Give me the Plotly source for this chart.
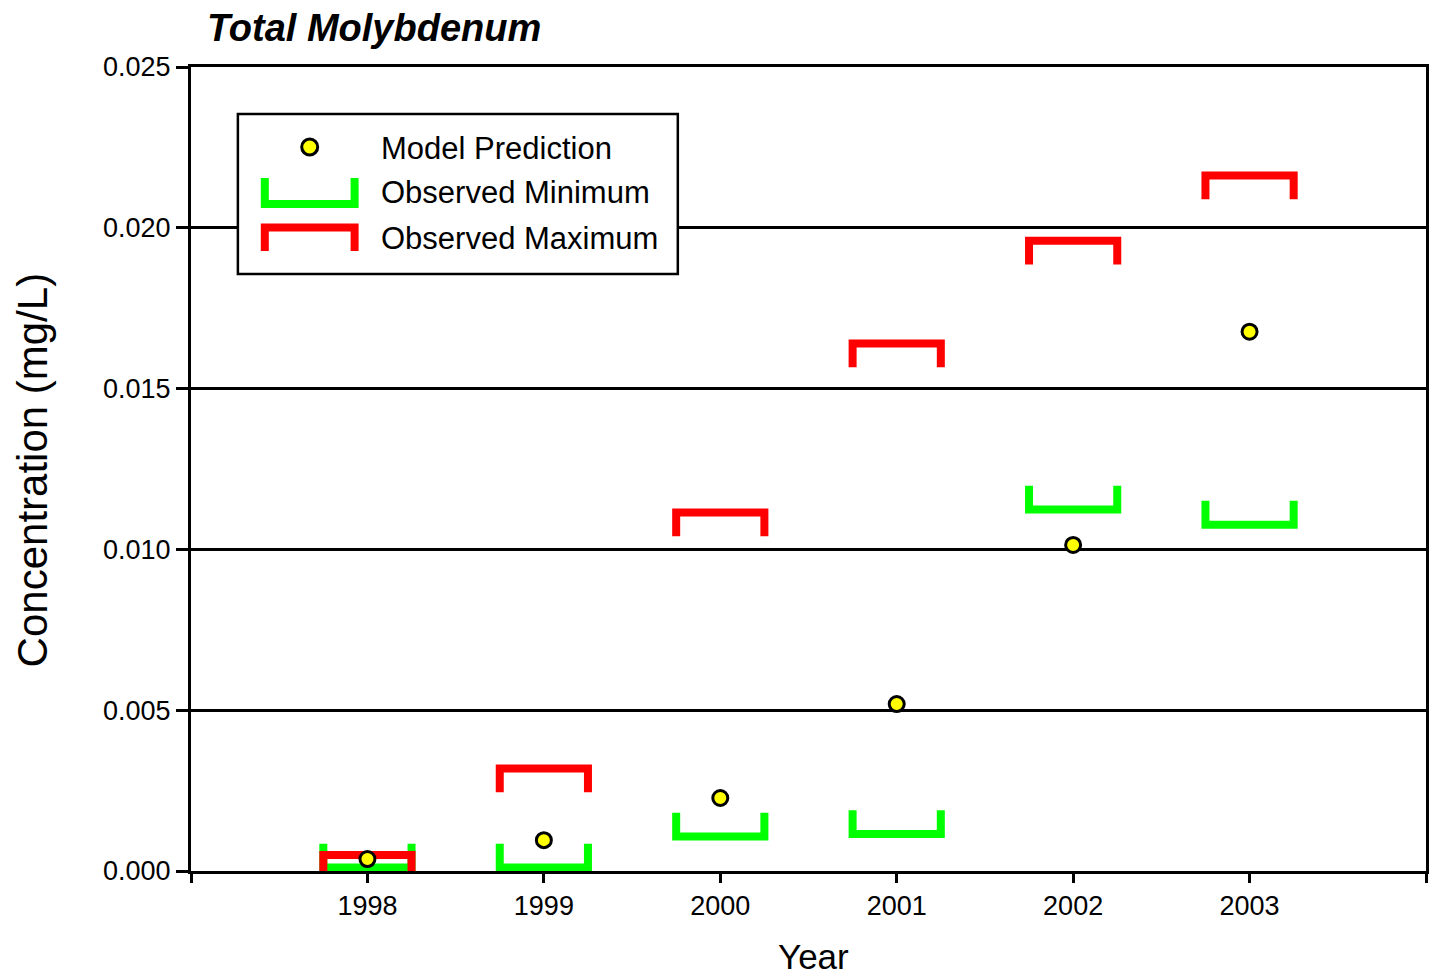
import plotly.graph_objects as go

# Total molybdenum: model prediction versus observed range per year
years = [1998, 1999, 2000, 2001, 2002, 2003]
model_prediction = [0.00037, 0.00096, 0.00227, 0.00519, 0.01014, 0.01677]
observed_min = [0.00011, 0.00011, 0.00107, 0.00115, 0.01124, 0.01077]
observed_max = [0.00050, 0.00319, 0.01115, 0.01640, 0.01960, 0.02163]

y_ticks = [0.0, 0.005, 0.010, 0.015, 0.020, 0.025]
y_tick_text = ["0.000", "0.005", "0.010", "0.015", "0.020", "0.025"]
x_ticks = [1997, 1998, 1999, 2000, 2001, 2002, 2003, 2004]
x_tick_text = ["", "1998", "1999", "2000", "2001", "2002", "2003", ""]

W, H = 1431, 979
M_L, M_R, M_T, M_B = 191, 2, 67, 108
PW, PH = W - M_L - M_R, H - M_T - M_B

GREEN = "#00FF00"
RED = "#FF0000"
YELLOW = "#FFFF00"
ARIAL = "Liberation Sans, Arial, sans-serif"

HALF_W = 0.25      # bracket half width in years
LEG = 0.00074      # bracket leg length in mg/L


def bracket(xs, ys, direction):
    """Build a bracket path: direction +1 opens upward, -1 opens downward."""
    px, py = [], []
    for x, y in zip(xs, ys):
        px += [x - HALF_W, x - HALF_W, x + HALF_W, x + HALF_W, None]
        py += [y + direction * LEG, y, y, y + direction * LEG, None]
    return px, py


def fx(p):
    return (p - M_L) / PW


def fy(p):
    return (H - M_B - p) / PH


fig = go.Figure()

gx, gy = bracket(years, observed_min, +1)
fig.add_trace(go.Scatter(x=gx, y=gy, mode="lines",
                         line=dict(color=GREEN, width=8), connectgaps=False,
                         name="Observed Minimum", hoverinfo="skip"))
rx, ry = bracket(years, observed_max, -1)
fig.add_trace(go.Scatter(x=rx, y=ry, mode="lines",
                         line=dict(color=RED, width=8), connectgaps=False,
                         name="Observed Maximum", hoverinfo="skip"))
fig.add_trace(go.Scatter(x=years, y=model_prediction, mode="markers",
                         marker=dict(color=YELLOW, size=15,
                                     line=dict(color="black", width=3)),
                         name="Model Prediction", cliponaxis=False))

shapes = []
annotations = []

# legend box
shapes.append(dict(type="rect", xref="paper", yref="paper",
                   x0=fx(238), x1=fx(679), y0=fy(114), y1=fy(274),
                   fillcolor="white", line=dict(color="black", width=2.5),
                   layer="above"))
# legend symbols
shapes.append(dict(type="circle", xref="paper", yref="paper",
                   xsizemode="pixel", ysizemode="pixel",
                   xanchor=fx(310), yanchor=fy(147),
                   x0=-8, x1=8, y0=-8, y1=8,
                   fillcolor=YELLOW, line=dict(color="black", width=3),
                   layer="above"))
shapes.append(dict(type="path", xref="paper", yref="paper",
                   path="M {:.5f} {:.5f} L {:.5f} {:.5f} L {:.5f} {:.5f} L {:.5f} {:.5f}".format(
                       fx(265), fy(178), fx(265), fy(204), fx(355), fy(204), fx(355), fy(178)),
                   line=dict(color=GREEN, width=8), layer="above"))
shapes.append(dict(type="path", xref="paper", yref="paper",
                   path="M {:.5f} {:.5f} L {:.5f} {:.5f} L {:.5f} {:.5f} L {:.5f} {:.5f}".format(
                       fx(265), fy(251), fx(265), fy(227.5), fx(355), fy(227.5), fx(355), fy(251)),
                   line=dict(color=RED, width=8), layer="above"))

for label, ypix in [("Model Prediction", 148), ("Observed Minimum", 192),
                    ("Observed Maximum", 238)]:
    annotations.append(dict(text=label, xref="paper", yref="paper",
                            x=fx(379), y=fy(ypix), xanchor="left", yanchor="middle",
                            showarrow=False,
                            font=dict(family=ARIAL, size=31, color="black")))

# title and axis titles
annotations.append(dict(text="<b><i>Total Molybdenum</i></b>", xref="paper", yref="paper",
                        x=fx(205), y=fy(28), xanchor="left", yanchor="middle",
                        showarrow=False,
                        font=dict(family=ARIAL, size=38, color="black")))
annotations.append(dict(text="Year", xref="paper", yref="paper",
                        x=fx(815), y=fy(956), xanchor="center", yanchor="middle",
                        showarrow=False,
                        font=dict(family=ARIAL, size=35, color="black")))
annotations.append(dict(text="Concentration (mg/L)", xref="paper", yref="paper",
                        x=fx(32), y=fy(470), xanchor="center", yanchor="middle",
                        textangle=-90, showarrow=False,
                        font=dict(family=ARIAL, size=42, color="black")))

fig.update_layout(
    width=W, height=H,
    margin=dict(l=M_L, r=M_R, t=M_T, b=M_B, pad=0),
    paper_bgcolor="white", plot_bgcolor="white",
    showlegend=False,
    shapes=shapes, annotations=annotations,
    xaxis=dict(range=[1997, 2004], tickmode="array", tickvals=x_ticks,
               ticktext=x_tick_text, ticks="outside", ticklen=9, tickwidth=3,
               tickcolor="black", showline=True, linewidth=3, linecolor="black",
               mirror=True, showgrid=False, zeroline=False, layer="below traces",
               tickfont=dict(family=ARIAL, size=27, color="black")),
    yaxis=dict(range=[0, 0.025], tickmode="array", tickvals=y_ticks,
               ticktext=y_tick_text, ticks="outside", ticklen=12, tickwidth=3,
               tickcolor="black", showline=True, linewidth=3, linecolor="black",
               mirror=True, showgrid=True, gridcolor="black", gridwidth=3,
               zeroline=False, layer="below traces",
               tickfont=dict(family=ARIAL, size=27, color="black")),
)

fig.write_html("out.html")
